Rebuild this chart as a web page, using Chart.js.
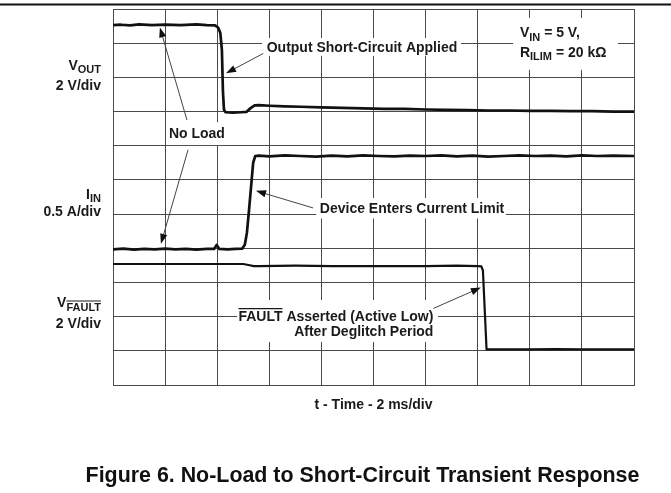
<!DOCTYPE html>
<html><head><meta charset="utf-8">
<script src="https://cdn.jsdelivr.net/npm/chart.js@4.4.1/dist/chart.umd.min.js"></script>
<style>html,body{margin:0;padding:0;background:#fff;}#wrap{width:671px;height:493px;position:relative;}</style>
</head><body><div id="wrap"><canvas id="c" width="671" height="493"></canvas></div>
<script>
// ---- data (time in divisions of 2 ms, amplitude in screen divisions) ----
const xDivs = [0, 10];
const yDivs = [0, 11];
const voutT = [0,0.15,0.33,0.5,0.75,1.0,1.3,1.6,1.8,1.96,2.02,2.06,2.09,2.11,2.13,2.16,2.3,2.45,2.56,2.64,2.72,2.8,3.0,3.3,3.6,4.0,4.4,4.8,5.2,5.6,6.0,6.4,6.8,7.2,7.6,8.0,8.4,8.8,9.2,9.6,10];
const voutV = [10.53,10.54,10.52,10.55,10.53,10.54,10.53,10.55,10.53,10.52,10.45,10.3,9.8,8.6,8.05,7.98,7.97,7.98,7.99,8.1,8.18,8.19,8.17,8.15,8.14,8.12,8.11,8.09,8.08,8.08,8.06,8.05,8.04,8.03,8.03,8.02,8.02,8.01,8.01,8.0,8.0];
const iinT = [0,0.2,0.4,0.6,0.8,1.0,1.2,1.4,1.6,1.8,1.94,1.99,2.04,2.2,2.35,2.48,2.53,2.57,2.61,2.65,2.69,2.73,2.8,3.0,3.3,3.6,3.9,4.2,4.5,4.8,5.1,5.4,5.7,6.0,6.3,6.6,6.9,7.2,7.5,7.8,8.1,8.4,8.7,9.0,9.3,9.6,10];
const iinV = [3.97,3.99,3.96,3.98,3.97,3.99,3.97,3.98,3.96,3.98,3.98,4.1,3.98,3.97,3.98,3.99,4.1,4.45,5.1,5.8,6.5,6.7,6.71,6.69,6.72,6.7,6.68,6.71,6.69,6.72,6.7,6.69,6.71,6.7,6.72,6.69,6.71,6.68,6.7,6.72,6.7,6.71,6.69,6.72,6.7,6.71,6.7];
const vfaultT = [0,1,2,2.5,2.6,2.7,2.8,3.5,4.2,5,6,6.6,7.0,7.07,7.1,7.135,7.17,7.3,8,8.5,9,9.5,10];
const vfaultV = [3.54,3.54,3.54,3.54,3.51,3.48,3.48,3.49,3.48,3.48,3.48,3.49,3.48,3.47,3.35,2.2,1.04,1.04,1.04,1.05,1.04,1.04,1.04];
const xTitle = 't - Time - 2 ms/div';
const caption = 'Figure 6. No-Load to Short-Circuit Transient Response';
const channelLabels = [
  {name:[{t:'V'},{t:'OUT',sub:true}], scale:'2 V/div', y:9.22, y2:8.64},
  {name:[{t:'I'},{t:'IN',sub:true}], scale:'0.5 A/div', y:5.45, y2:4.93},
  {name:[{t:'V'},{t:'FAULT',sub:true,over:true}], scale:'2 V/div', y:2.27, y2:1.67}
];
// annotations (in data units)
const notes = [
  {lines:[[{t:'Output Short-Circuit Applied'}]], x:2.95, y:[9.75], align:'left', box:[2.86,6.68,9.63,10.15],
   arrows:[[2.885,9.70,2.17,9.12]]},
  {lines:[[{t:'No Load'}]], x:1.61, y:[7.22], align:'center', box:[1.06,2.17,7.02,7.69],
   arrows:[[1.42,7.75,0.90,10.46],[1.44,6.88,0.92,4.13]]},
  {lines:[[{t:'Device Enters Current Limit'}]], x:3.97, y:[5.02], align:'left', box:[3.90,7.54,4.87,5.47],
   arrows:[[3.84,5.18,2.745,5.68]]},
  {lines:[[{t:'FAULT',over:true},{t:' Asserted (Active Low)'}],[{t:'After Deglitch Period'}]], x:6.15, y:[1.88,1.43], align:'right', box:[2.38,6.24,1.26,2.49],
   arrows:[[6.15,2.24,7.06,2.85]]},
  {lines:[[{t:'V'},{t:'IN',sub:true},{t:' = 5 V,'}],[{t:'R'},{t:'ILIM',sub:true},{t:' = 20 k\u03A9'}]], x:7.81, y:[10.17,9.60], align:'left', box:[7.68,9.69,9.22,10.74],
   arrows:[]}
];

const FF = '"Liberation Sans", Arial, Helvetica, sans-serif';
const MAIN = 14, SUB = 11;
function setFont(ctx, p){ ctx.font = 'bold ' + (p.sub ? SUB : MAIN) + 'px ' + FF; }
function richWidth(ctx, parts){ let w=0; parts.forEach(p=>{ setFont(ctx,p); w += ctx.measureText(p.t).width; }); return w; }
function drawRich(ctx, parts, x, y, align){
  const w = richWidth(ctx, parts);
  let cx = align==='right' ? x-w : align==='center' ? x-w/2 : x;
  ctx.textAlign='left'; ctx.textBaseline='alphabetic'; ctx.fillStyle='#1a1a1a';
  parts.forEach(p=>{
    setFont(ctx,p);
    const by = p.sub ? y+3.5 : y;
    const mw = ctx.measureText(p.t).width;
    ctx.fillText(p.t, cx, by);
    if (p.over){
      const top = by - (p.sub ? SUB : MAIN)*0.72 - 2;
      ctx.save(); ctx.strokeStyle='#1a1a1a'; ctx.lineWidth=1.2;
      ctx.beginPath(); ctx.moveTo(cx, top); ctx.lineTo(cx+mw, top); ctx.stroke(); ctx.restore();
    }
    cx += mw;
  });
}
function arrow(ctx,x1,y1,x2,y2){
  const a=Math.atan2(y2-y1,x2-x1), L=10, W=3.6;
  ctx.save(); ctx.strokeStyle='#444'; ctx.fillStyle='#111'; ctx.lineWidth=1;
  ctx.beginPath(); ctx.moveTo(x1,y1); ctx.lineTo(x2-L*0.7*Math.cos(a), y2-L*0.7*Math.sin(a)); ctx.stroke();
  ctx.beginPath(); ctx.moveTo(x2,y2);
  ctx.lineTo(x2-L*Math.cos(a)+W*Math.sin(a), y2-L*Math.sin(a)-W*Math.cos(a));
  ctx.lineTo(x2-L*Math.cos(a)-W*Math.sin(a), y2-L*Math.sin(a)+W*Math.cos(a));
  ctx.closePath(); ctx.fill(); ctx.restore();
}

const scopePlugin = {
  id:'scope',
  beforeDatasetsDraw(chart){
    const ctx=chart.ctx, X=chart.scales.x, Y=chart.scales.y;
    ctx.save();
    ctx.fillStyle='#fff';
    notes.forEach(n=>{
      const [x0,x1,y0,y1]=n.box;
      const px0=X.getPixelForValue(x0), px1=X.getPixelForValue(x1), py0=Y.getPixelForValue(y1), py1=Y.getPixelForValue(y0);
      ctx.fillRect(px0,py0,px1-px0,py1-py0);
    });
    notes.forEach(n=>{
      n.lines.forEach((ln,i)=> drawRich(ctx, ln, X.getPixelForValue(n.x), Y.getPixelForValue(n.y[i]), n.align));
      n.arrows.forEach(a=> arrow(ctx, X.getPixelForValue(a[0]), Y.getPixelForValue(a[1]), X.getPixelForValue(a[2]), Y.getPixelForValue(a[3])));
    });
    ctx.restore();
  },
  afterDraw(chart){
    const ctx=chart.ctx, X=chart.scales.x, Y=chart.scales.y, ca=chart.chartArea;
    ctx.save();
    ctx.strokeStyle='#111'; ctx.lineWidth=2;
    ctx.beginPath(); ctx.moveTo(0,4.5); ctx.lineTo(chart.width,4.5); ctx.stroke();
    channelLabels.forEach(c=>{
      drawRich(ctx, c.name, ca.left-12, Y.getPixelForValue(c.y), 'right');
      drawRich(ctx, [{t:c.scale}], ca.left-12, Y.getPixelForValue(c.y2), 'right');
    });
    ctx.font='bold 14px '+FF; ctx.textAlign='center'; ctx.textBaseline='middle'; ctx.fillStyle='#1a1a1a';
    ctx.fillText(xTitle, (ca.left+ca.right)/2, ca.bottom+20);
    ctx.font='bold 21.4px '+FF; ctx.fillStyle='#111'; ctx.textBaseline='alphabetic';
    ctx.fillText(caption, 362.5, ca.bottom+97);
    ctx.restore();
  }
};

const mk = (T,V)=>T.map((t,i)=>({x:t,y:V[i]}));
new Chart(document.getElementById('c'), {
  type:'line',
  data:{datasets:[
    {label:'VOUT', data:mk(voutT,voutV), borderColor:'#111', borderWidth:2.7},
    {label:'IIN', data:mk(iinT,iinV), borderColor:'#111', borderWidth:2.7},
    {label:'VFAULT', data:mk(vfaultT,vfaultV), borderColor:'#111', borderWidth:2.2}
  ]},
  options:{
    responsive:false, animation:false, devicePixelRatio:1,
    layout:{padding:{left:113,right:37,top:9,bottom:108}},
    elements:{point:{radius:0}, line:{tension:0, borderJoinStyle:'round', borderCapStyle:'round'}},
    plugins:{legend:{display:false}, tooltip:{enabled:false}},
    scales:{
      x:{type:'linear', min:xDivs[0], max:xDivs[1], ticks:{display:false, stepSize:1},
         grid:{color:'#4a4a4a', lineWidth:1, drawTicks:false}, border:{color:'#4a4a4a'}},
      y:{type:'linear', min:yDivs[0], max:yDivs[1], ticks:{display:false, stepSize:1},
         grid:{color:'#4a4a4a', lineWidth:1, drawTicks:false}, border:{color:'#4a4a4a'}}
    }
  },
  plugins:[scopePlugin]
});
</script></body></html>
